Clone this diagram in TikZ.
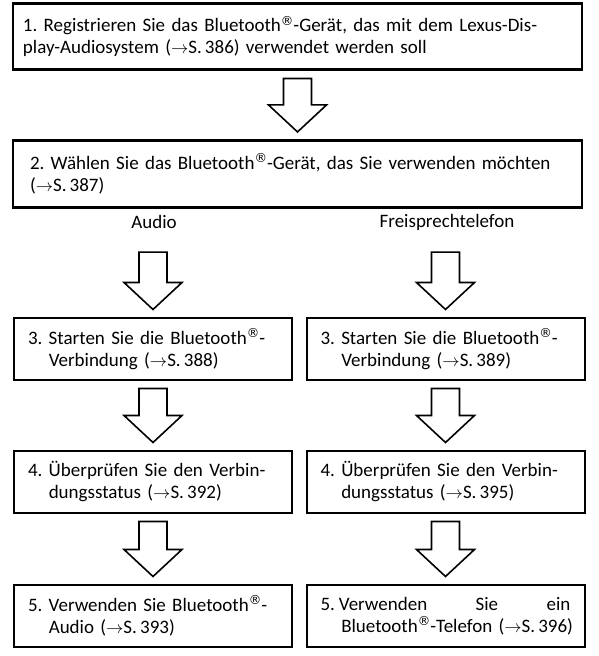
\documentclass[tikz,border=0pt]{standalone}
\usepackage{fontspec}
\setmainfont{Carlito}
\newfontfamily\regfont{DejaVu Sans}
\usetikzlibrary{calc}

\tikzset{
  stepbox/.style={draw, line width=2pt, inner xsep=14pt, inner ysep=0pt, align=left,
    font=\fontsize{19}{22}\selectfont},
  widebox/.style={stepbox, line width=2.6pt, minimum height=66.5pt},
  colbox/.style={stepbox, minimum height=62pt, text width=250pt},
  branch/.style={minimum height=45pt, inner sep=0pt, font=\fontsize{19}{22}\selectfont},
  blockarrow/.style={draw, line width=1.6pt, line join=miter, fill=white}
}
\newcommand{\fullline}[1]{\makebox[\linewidth][s]{#1}}
\newcommand{\reg}{\raisebox{6.5pt}{\regfont\fontsize{12.5}{12.5}\selectfont ®}}
\newcommand{\seite}[1]{($\rightarrow$S.\,#1)}
% hollow block arrow from one node down to the next
\newcommand{\flowarrow}[2]{%
  \draw[blockarrow] let \p1=(#1.south), \p2=(#2.north) in
    (\x2-14pt,\y1-7.5pt) -- (\x2+14pt,\y1-7.5pt) -- (\x2+14pt,\y2+34.5pt)
    -- (\x2+29pt,\y2+34.5pt) -- (\x2,\y2+7.5pt) -- (\x2-29pt,\y2+34.5pt)
    -- (\x2-14pt,\y2+34.5pt) -- cycle;}

\begin{document}
\begin{tikzpicture}
  \useasboundingbox (0,0) rectangle (598pt,656pt);

  % common steps
  \node[widebox, text width=549pt, inner xsep=10pt] (reg) at (297.5pt,619.5pt)
    {\fullline{1.\ Registrieren Sie das Bluetooth\reg-Gerät, das mit dem Lexus-Dis-}\\
     play-Audiosystem \seite{386} verwendet werden soll};
  \node[widebox, text width=535pt, inner xsep=17pt] (waehlen) at (297.5pt,482pt)
    {\fullline{2.\ Wählen Sie das Bluetooth\reg-Gerät, das Sie verwenden möchten}\\
     \seite{387}};

  \node[branch] (audio) at (154pt,434pt) {Audio};
  \node[branch] (frei) at (447pt,434pt) {Freisprechtelefon};

  % Audio column
  \node[colbox] (startA) at (153pt,307pt)
    {\fullline{3.\ Starten Sie die Bluetooth\reg-}\\\hphantom{3.\ }Verbindung \seite{388}};
  \node[colbox] (statusA) at (153pt,174pt)
    {\fullline{4.\ Überprüfen Sie den Verbin-}\\\hphantom{4.\ }dungsstatus \seite{392}};
  \node[colbox] (nutzA) at (153pt,40pt)
    {\fullline{5.\ Verwenden Sie Bluetooth\reg-}\\\hphantom{5.\ }Audio \seite{393}};

  % Freisprechtelefon column
  \node[colbox] (startF) at (445.5pt,307pt)
    {\fullline{3.\ Starten Sie die Bluetooth\reg-}\\\hphantom{3.\ }Verbindung \seite{389}};
  \node[colbox] (statusF) at (445.5pt,174pt)
    {\fullline{4.\ Überprüfen Sie den Verbin-}\\\hphantom{4.\ }dungsstatus \seite{395}};
  \node[colbox] (nutzF) at (445.5pt,40pt)
    {\fullline{5.\kern4pt Verwenden\hfill Sie\hfill ein}\\
     \mbox{\hphantom{5.\ }Bluetooth\reg-Telefon \seite{396}}};

  \foreach \a/\b in {reg/waehlen, audio/startA, startA/statusA, statusA/nutzA,
                     frei/startF, startF/statusF, statusF/nutzF}
    {\flowarrow{\a}{\b}}
\end{tikzpicture}
\end{document}
